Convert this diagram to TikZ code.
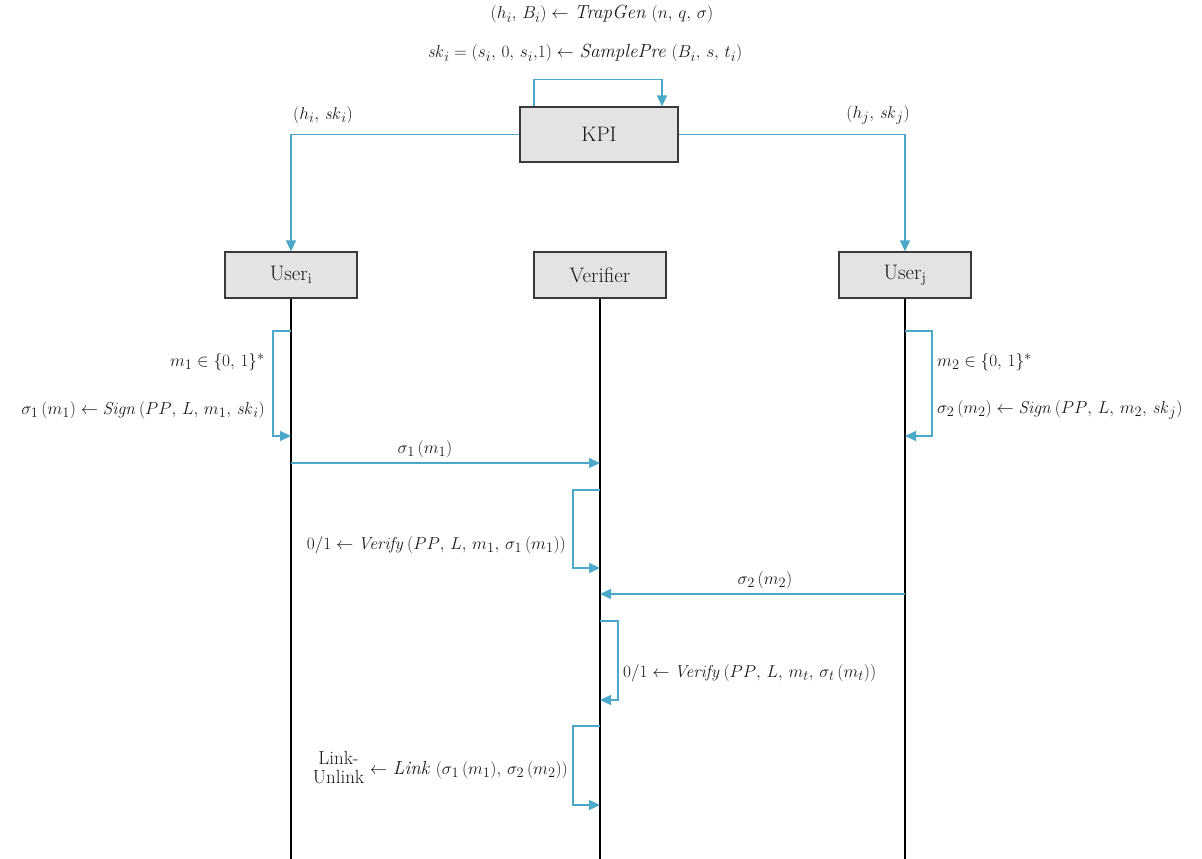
\documentclass[tikz,border=0pt]{standalone}
\usetikzlibrary{arrows.meta}
\definecolor{lblue}{HTML}{4BA8C8}
\definecolor{boxgray}{HTML}{E3E3E3}
\definecolor{boxedge}{HTML}{3A3A3A}
\newcommand{\cs}{{,}\ }
\begin{document}
\begin{tikzpicture}[x=1pt,y=-1pt,
  every node/.style={font=\fontsize{19}{22}\selectfont, text=black!90},
  actor/.style={draw=boxedge, fill=boxgray, line width=1.2pt, minimum width=132pt, minimum height=46pt, inner sep=0pt, font=\fontsize{21}{24}\selectfont},
  msg/.style={draw=lblue, line width=1.2pt, -{Triangle[width=10pt,length=11pt]}},
  life/.style={draw=black, line width=1.1pt},
  lbl/.style={inner sep=1pt}]
\useasboundingbox (0,0) rectangle (1202,859);
% actors
\node[actor, minimum width=158pt, minimum height=55pt] (kpi) at (599,134.5) {KPI};
\node[actor] (ui) at (291,275) {User$_{\mathrm{i}}$};
\node[actor] (ver) at (600,275) {Verifier};
\node[actor] (uj) at (905,275) {User$_{\mathrm{j}}$};
\coordinate (uiend) at (291,859);
\coordinate (verend) at (600,859);
\coordinate (ujend) at (905,859);
% lifelines
\draw[life] (ui.south) -- (uiend);
\draw[life] (ver.south) -- (verend);
\draw[life] (uj.south) -- (ujend);
% KPI
\draw[msg] ([xshift=-65pt]kpi.north) -- ++(0,-27) -| ([xshift=63pt]kpi.north);
\draw[msg] (kpi.west) -| (ui.north);
\draw[msg] (kpi.east) -| (uj.north);
\node[lbl] (t1) at (602,14) {$(h_i\cs B_i)\leftarrow$ \textit{TrapGen} $(n\cs q\cs \sigma)$};
\node[lbl] (t2) at (585,53) {$\mathit{sk}_i = (s_i\cs 0\cs s_i{,}1)\leftarrow$ \textit{SamplePre} $(B_i\cs s\cs t_i)$};
\node[lbl] (ki) at (323,115) {$(h_i\cs \mathit{sk}_i)$};
\node[lbl] (kj) at (878,115) {$(h_j\cs \mathit{sk}_j)$};
% user i loop
\coordinate (ui1) at (291,331);
\coordinate (ui2) at (291,436);
\draw[msg] (ui1) -- ++(-18,0) |- (ui2);
\node[lbl, anchor=east] (lm1) at (266,362) {$m_1 \in \{0\cs 1\}^*$};
\node[lbl, anchor=east] (ls1) at (266,410) {$\sigma_1\,(m_1) \leftarrow \mathit{Sign}\,(PP\cs L\cs m_1\cs \mathit{sk}_i)$};
% user j loop
\coordinate (uj1) at (905,331);
\coordinate (uj2) at (905,436);
\draw[msg] (uj1) -- ++(27,0) |- (uj2);
\node[lbl, anchor=west] (lm2) at (936,362) {$m_2 \in \{0\cs 1\}^*$};
\node[lbl, anchor=west] (ls2) at (936,410) {$\sigma_2\,(m_2) \leftarrow \mathit{Sign}\,(PP\cs L\cs m_2\cs \mathit{sk}_j)$};
% message 1
\coordinate (m1a) at (291,463);
\coordinate (m1b) at (600,463);
\draw[msg] (m1a) -- (m1b);
\node[lbl] (lmsg1) at (425,449) {$\sigma_1\,(m_1)$};
% verifier loop 1
\coordinate (v1) at (600,490);
\coordinate (v2) at (600,568);
\draw[msg] (v1) -- ++(-27,0) |- (v2);
\node[lbl, anchor=east] (lv1) at (567,545) {$0/1 \leftarrow \mathit{Verify}\,(PP\cs L\cs m_1\cs \sigma_1\,(m_1))$};
% message 2
\coordinate (m2a) at (905,594);
\coordinate (m2b) at (600,594);
\draw[msg] (m2a) -- (m2b);
\node[lbl] (lmsg2) at (765,580) {$\sigma_2\,(m_2)$};
% verifier loop 2
\coordinate (v3) at (600,621);
\coordinate (v4) at (600,700);
\draw[msg] (v3) -- ++(18,0) |- (v4);
\node[lbl, anchor=west] (lv2) at (622,673) {$0/1 \leftarrow \mathit{Verify}\,(PP\cs L\cs m_t\cs \sigma_t\,(m_t))$};
% verifier loop 3
\coordinate (v5) at (600,726);
\coordinate (v6) at (600,805);
\draw[msg] (v5) -- ++(-27,0) |- (v6);
\node[lbl, anchor=east] (lv3) at (569,770) {\begin{tabular}{@{}c@{}}Link-\\[-3pt]Unlink\end{tabular} $\leftarrow$ \textit{Link} $(\sigma_1\,(m_1)\cs \sigma_2\,(m_2))$};
\end{tikzpicture}
\end{document}
